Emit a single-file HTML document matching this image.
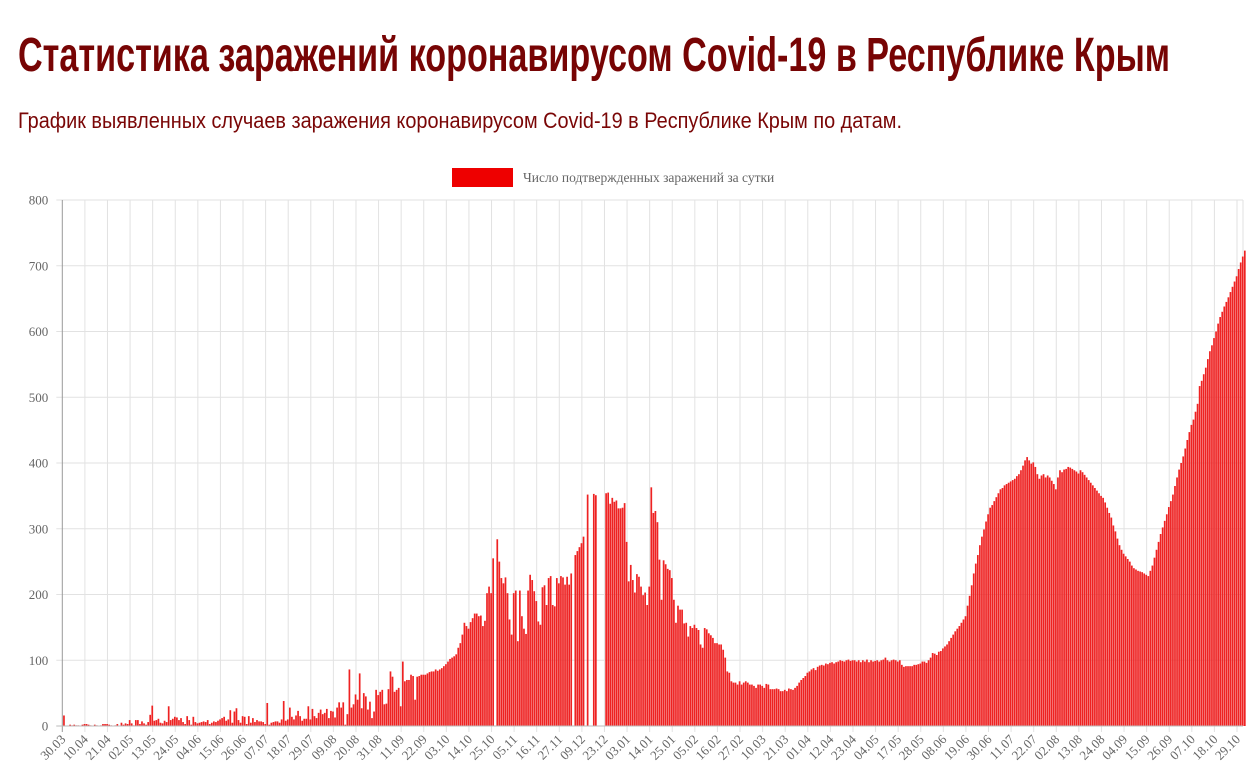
<!DOCTYPE html>
<html><head><meta charset="utf-8"><style>
html,body{margin:0;padding:0;background:#fff;width:1260px;height:772px;overflow:hidden}
svg{display:block}
</style></head><body>
<svg id="chart" width="1260" height="772" viewBox="0 0 1260 772" xmlns="http://www.w3.org/2000/svg">
<text x="18" y="71" font-family="'Liberation Sans Narrow','Liberation Sans',sans-serif" font-weight="bold" font-size="48" fill="#770404" textLength="1152" lengthAdjust="spacingAndGlyphs">Статистика заражений коронавирусом Covid-19 в Республике Крым</text>
<text x="18" y="128" font-family="'Liberation Sans Narrow','Liberation Sans',sans-serif" font-size="22" fill="#7a0606" textLength="884" lengthAdjust="spacingAndGlyphs">График выявленных случаев заражения коронавирусом Covid-19 в Республике Крым по датам.</text>
<rect x="452" y="168" width="61" height="19" fill="#ee0000"/>
<text x="523" y="182" font-family="'Liberation Serif',serif" font-size="13.5" fill="#666">Число подтвержденных заражений за сутки</text>
<g id="grid"></g><g id="bars"></g><g id="axes"></g>
</svg>
<script>
const dateLabels=["30.03","10.04","21.04","02.05","13.05","24.05","04.06","15.06","26.06","07.07","18.07","29.07","09.08","20.08","31.08","11.09","22.09","03.10","14.10","25.10","05.11","16.11","27.11","09.12","23.12","03.01","14.01","25.01","05.02","16.02","27.02","10.03","21.03","01.04","12.04","23.04","04.05","17.05","28.05","08.06","19.06","30.06","11.07","22.07","02.08","13.08","24.08","04.09","15.09","26.09","07.10","18.10","29.10"];
const yTicks=[0,100,200,300,400,500,600,700,800];
const casesA=[16,0,0,2,1,2,1,1,0,2,3, 3,2,1,0,2,1,0,1,3,3,3, 2,1,0,1,3,0,5,2,4,3,9, 4,1,9,9,3,7,4,2,6,17,31, 8,9,11,5,4,8,6,30,9,11,14, 13,9,12,6,3,15,9,2,14,6,4, 5,6,7,6,9,3,5,7,6,8,10, 12,14,8,10,24,5,22,27,9,5,15, 14,3,15,5,12,6,9,7,7,6,3, 35,2,5,6,7,7,5,10,38,8,10, 28,14,10,16,23,15,8,11,11,30,10, 26,15,12,20,25,18,20,26,12,23,22, 13,28,36,28,36,2,18,86,28,33,48, 40,80,27,50,45,25,37,12,22,55,47, 52,55,33,34,56,83,75,52,55,58,30, 98,68,70,70,78,76,40,75,76,78,78];
const casesB=[78,80,82,83,83,86,84,86,88,91,94, 98,102,104,106,109,119,126,139,157,152,148, 158,164,171,171,167,168,152,160,202,212,202, 255,0,284,250,225,217,226,202,162,139,202, 206,129,206,167,148,140,206,230,222,205,190, 159,154,211,214,184,225,228,184,182,225,217, 228,226,215,227,215,232,0,260,266,272,278, 288,0,352,0,0,353,351,0,0,0,0, 354,355,338,347,341,343,331,331,332,339,280, 220,245,222,203,231,227,212,199,203,184,212, 363,324,327,310,253,192,252,246,239,237,225, 192,157,183,177,177,156,157,136,152,149,154, 149,146,124,119,149,147,141,138,134,126,126, 124,124,116,104,83,81,68,66,66,63,68];
const casesC=[63,66,68,66,63,63,61,58,63,63,61, 58,64,63,56,56,56,57,56,53,53,55, 53,57,56,55,58,61,66,70,73,76,81, 83,86,88,85,90,92,93,92,95,94,96, 97,95,97,98,100,99,98,100,101,99,100, 100,98,100,97,100,98,101,97,100,98,99, 100,98,100,101,104,100,98,100,101,100,98, 100,93,90,91,91,91,91,93,93,94,95, 98,98,96,100,104,111,110,108,113,114,118, 121,124,129,134,139,144,148,152,157,162,167, 183,198,214,232,247,260,275,288,299,311,322, 332,336,342,348,354,360,362,366,368,370,372];
const casesD=[374,376,380,383,389,396,404,409,404,399,401, 394,383,376,381,383,378,381,378,373,368,360, 378,389,386,390,391,394,393,391,389,387,384, 389,386,382,378,374,370,366,362,358,354,350, 347,340,332,324,317,305,296,285,275,268,262, 258,254,250,244,240,238,236,235,234,232,230, 228,236,244,256,268,280,292,302,312,322,333, 342,352,365,378,390,400,410,422,435,447,458, 466,478,490,517,525,535,545,558,570,579,590, 600,612,622,630,638,645,652,660,668,676,684, 695,705,714,723];
const cases=casesA.concat(casesB,casesC,casesD);
const NS="http://www.w3.org/2000/svg";
const X0=62.3,STEP=(1237-62.3)/572,RIGHT=1243,Y0=726,YTOP=200,YMAX=800;
function xPos(i){return X0+i*STEP;}
function yPos(v){return Y0-(v/YMAX)*(Y0-YTOP);}
function mk(tag,attrs,parent){const e=document.createElementNS(NS,tag);for(const k in attrs)e.setAttribute(k,attrs[k]);parent.appendChild(e);return e;}
const grid=document.getElementById('grid'),bars=document.getElementById('bars'),axes=document.getElementById('axes');
yTicks.forEach(v=>{
  const l=mk('line',{x1:X0-6,x2:RIGHT,y1:yPos(v),y2:yPos(v),stroke:'#e2e2e2','stroke-width':1},grid);
  
  
  const t=mk('text',{x:X0-14,y:yPos(v)+4.5,'text-anchor':'end','font-family':"'Liberation Serif',serif",'font-size':13,fill:'#666'},axes);
  t.textContent=v;
  
  
});
dateLabels.forEach((d,k)=>{
  const x=xPos(k*11);
  const l=mk('line',{x1:x,x2:x,y1:YTOP,y2:Y0+6,stroke:k===0?'#999':'#e2e2e2','stroke-width':1},grid);
  
  
  const t=mk('text',{x:0,y:0,'text-anchor':'end','font-family':"'Liberation Serif',serif",'font-size':13,fill:'#666',transform:`translate(${x+4},${Y0+14}) rotate(-45)`},axes);
  t.textContent=d;
  
  
});
const rl=mk('line',{x1:RIGHT,x2:RIGHT,y1:YTOP,y2:Y0,stroke:'#e2e2e2','stroke-width':1},grid);


cases.forEach((v,i)=>{
  if(v<=0)return;
  const r=mk('rect',{x:xPos(i)+0.8,y:yPos(v),width:1.7,height:Y0-yPos(v),fill:'#ee2222'},bars);
  
  
});
const bl=mk('line',{x1:X0-6,x2:RIGHT,y1:Y0,y2:Y0,stroke:'#bbb','stroke-width':1},axes);


</script>
</body></html>
